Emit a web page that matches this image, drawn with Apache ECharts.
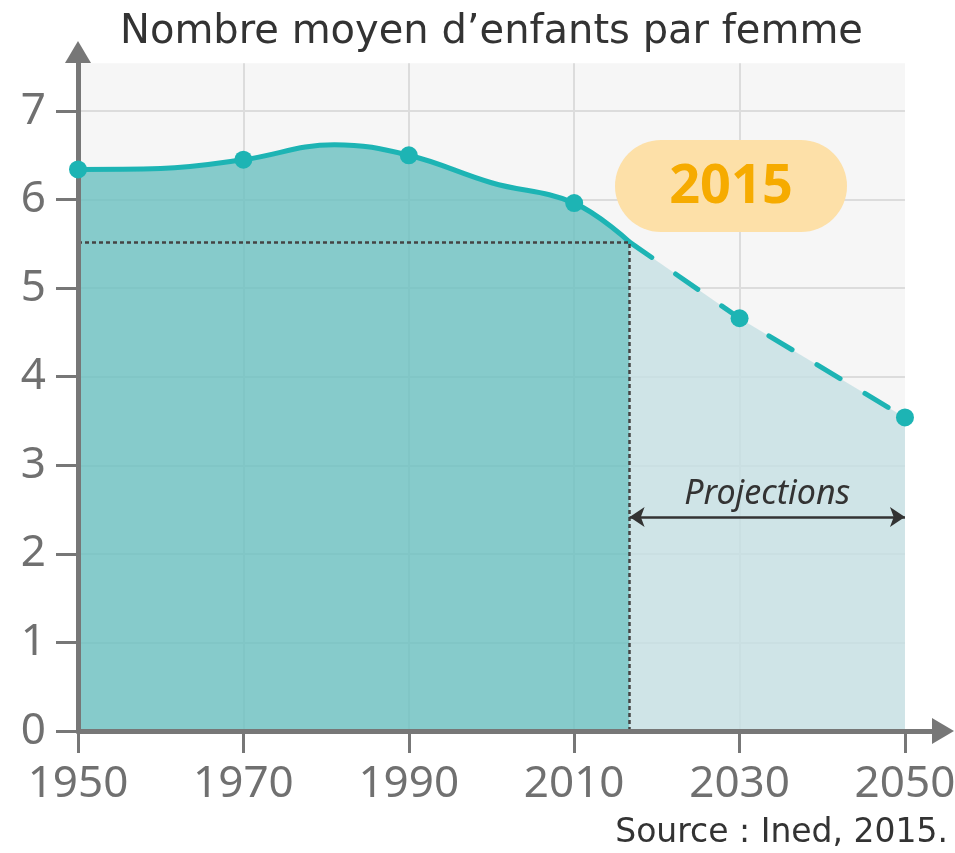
<!DOCTYPE html>
<html>
<head>
<meta charset="utf-8">
<script src="https://cdn.jsdelivr.net/npm/echarts@6/dist/echarts.min.js"></script>
<style>
html,body{margin:0;padding:0;background:#fff;}
#chart{width:955px;height:853px;}
</style>
</head>
<body>
<div id="chart"></div>
<script>
// ---- data ----
const markYears = [1950, 1970, 1990, 2010, 2030, 2050];
const markValues = [6.34, 6.45, 6.50, 5.96, 4.66, 3.54];
const curveYears = [1950, 1960, 1970, 1981, 1990, 2000, 2010, 2016.7];
const curveValues = [6.34, 6.35, 6.45, 6.62, 6.50, 6.19, 5.96, 5.52];
const projYears = [2016.7, 2030, 2050];
const projValues = [5.52, 4.66, 3.54];
const xTicks = [1950, 1970, 1990, 2010, 2030, 2050];
const yTicks = [0, 1, 2, 3, 4, 5, 6, 7];
const cutYear = 2016.7;
const cutValue = 5.52;
const projArrowValue = 2.416;
const bgTop = 7.54;
const titleText = 'Nombre moyen d\u2019enfants par femme';
const sourceText = 'Source : Ined, 2015.';
const badgeText = '2015';
const projLabel = 'Projections';

const FONT = 'Noto Sans';
const TFONT = 'DejaVu Sans';
const zip = (a, b) => a.map((v, i) => [v, b[i]]);

const gridLines = [];
yTicks.filter(v => v > 0).forEach(v => gridLines.push([{coord: [xTicks[0], v]}, {coord: [xTicks[xTicks.length - 1], v]}]));
xTicks.slice(1, -1).forEach(x => gridLines.push([{coord: [x, 0]}, {coord: [x, bgTop]}]));

const chart = echarts.init(document.getElementById('chart'), null, {renderer: 'canvas'});
chart.setOption({
  animation: false,
  title: [
    {text: titleText, left: 120, top: 13, padding: 0,
     textStyle: {fontFamily: TFONT, fontSize: 40, fontWeight: 'normal', color: '#333'}},
    {text: sourceText, right: 7, top: 817, padding: 0,
     textStyle: {fontFamily: TFONT, fontSize: 33, fontWeight: 'normal', color: '#333'}}
  ],
  grid: {left: 78, right: 12, top: 52, bottom: 122, containLabel: false, outerBoundsMode: 'none'},
  xAxis: {
    type: 'value', min: 1950, max: 2054.6, interval: 20, z: 10,
    axisLine: {show: true, lineStyle: {color: '#777', width: 5}, symbol: ['none', 'triangle'], symbolSize: [26, 22]},
    axisTick: {show: true, length: 22, lineStyle: {color: '#777', width: 3}, customValues: xTicks},
    axisLabel: {show: true, margin: 31, color: '#707070', fontFamily: FONT, fontSize: 44, customValues: xTicks,
      formatter: v => String(v)},
    splitLine: {show: false}
  },
  yAxis: {
    type: 'value', min: 0, max: 7.666, interval: 1, z: 10,
    axisLine: {show: true, lineStyle: {color: '#777', width: 5}, symbol: ['none', 'triangle'], symbolSize: [26, 22]},
    axisTick: {show: true, length: 22, lineStyle: {color: '#777', width: 3}, customValues: yTicks},
    axisLabel: {show: true, margin: 32, color: '#707070', fontFamily: FONT, fontSize: 44, customValues: yTicks,
      formatter: v => String(v)},
    splitLine: {show: false}
  },
  series: [
    {
      name: 'bg', type: 'line', data: [], silent: true,
      markArea: {silent: true, z: 0, itemStyle: {color: '#f6f6f6', opacity: 1},
        data: [[{coord: [xTicks[0], 0]}, {coord: [xTicks[xTicks.length - 1], bgTop]}]]},
      markLine: {silent: true, z: 1, symbol: 'none', label: {show: false},
        lineStyle: {color: '#dcdcdc', width: 2, type: 'solid', opacity: 1}, data: gridLines}
    },
    {
      name: 'curve', type: 'line', z: 3, smooth: 0.4, showSymbol: false, silent: true,
      data: zip(curveYears, curveValues),
      lineStyle: {color: '#1db4b4', width: 5},
      areaStyle: {color: 'rgb(106,192,192)', opacity: 0.8},
      markLine: {silent: true, z: 5, symbol: 'none', label: {show: false},
        lineStyle: {color: '#444', width: 2.5, type: [4, 3], opacity: 1},
        data: [
          [{coord: [xTicks[0], cutValue]}, {coord: [cutYear, cutValue]}],
          [{coord: [cutYear, 0]}, {coord: [cutYear, cutValue]}]
        ]}
    },
    {
      name: 'proj', type: 'line', z: 3, smooth: false, showSymbol: false, silent: true,
      data: zip(projYears, projValues),
      lineStyle: {color: '#1db4b4', width: 5, type: [27, 29], cap: 'round'},
      areaStyle: {color: 'rgb(197,224,228)', opacity: 0.8},
      markLine: {silent: true, z: 6, symbol: ['arrow', 'arrow'], symbolSize: [15, 15],
        lineStyle: {color: '#333', width: 2.5, type: 'solid', opacity: 1},
        label: {show: true, position: 'insideMiddleTop', formatter: projLabel, distance: 6,
          fontFamily: FONT, fontStyle: 'italic', fontSize: 34, color: '#333'},
        data: [[{coord: [cutYear, projArrowValue]}, {coord: [xTicks[xTicks.length - 1], projArrowValue]}]]}
    },
    {
      name: 'points', type: 'scatter', z: 20, silent: true,
      data: zip(markYears, markValues), symbolSize: 18,
      itemStyle: {color: '#1db4b4', opacity: 1}
    }
  ],
  graphic: [
    {type: 'rect', x: 615, y: 140, z: 50, shape: {x: 0, y: 0, width: 232, height: 92, r: 46},
      style: {fill: '#fde0a8'}},
    {type: 'text', x: 731, y: 188, z: 51,
      style: {text: badgeText, align: 'center', verticalAlign: 'middle', fill: '#f6ab00',
        fontFamily: FONT, fontWeight: 'bold', fontSize: 54}}
  ]
});
</script>
</body>
</html>
